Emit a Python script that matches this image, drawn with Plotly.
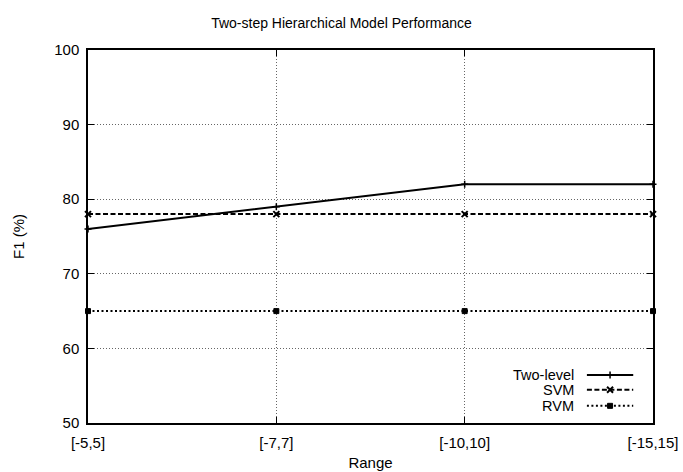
import plotly.graph_objects as go

# F1 score by feature range for each model
ranges = ["[-5,5]", "[-7,7]", "[-10,10]", "[-15,15]"]
two_level = [76, 79, 82, 82]
svm = [78, 78, 78, 78]
rvm = [65, 65, 65, 65]
y_ticks = [50, 60, 70, 80, 90, 100]

x_pos = list(range(len(ranges)))
FONT = "Liberation Sans, Arial, sans-serif"

series = [
    ("Two-level", two_level, "solid", "cross-thin", 5, 2.0, 1.5),
    ("SVM", svm, "5px,2.5px", "x-thin", 6, 2.0, 2.0),
    ("RVM", rvm, "2px,2.5px", "square", 5, 2.0, 1.0),
]

fig = go.Figure()
for name, vals, dash, sym, msize, lw, mlw in series:
    fig.add_trace(go.Scatter(
        x=x_pos, y=vals, name=name, mode="lines+markers",
        line=dict(color="black", width=lw, dash=dash),
        marker=dict(symbol=sym, size=msize, color="black",
                    line=dict(color="black", width=mlw)),
        cliponaxis=False, showlegend=False,
    ))

# key in the lower right: label on the left, sample line on the right
key_y = [0.129, 0.089, 0.046]
for (name, vals, dash, sym, msize, lw, mlw), ky in zip(series, key_y):
    fig.add_trace(go.Scatter(
        x=[0.883, 0.924, 0.965], y=[ky] * 3, mode="lines",
        line=dict(color="black", width=lw, dash=dash),
        xaxis="x2", yaxis="y2", showlegend=False, hoverinfo="skip",
        cliponaxis=False,
    ))
    fig.add_trace(go.Scatter(
        x=[0.924], y=[ky], mode="markers",
        marker=dict(symbol=sym, size=msize, color="black",
                    line=dict(color="black", width=mlw)),
        xaxis="x2", yaxis="y2", showlegend=False, hoverinfo="skip",
        cliponaxis=False,
    ))
    fig.add_annotation(
        x=0.864, y=ky, xref="paper", yref="paper", text=name,
        showarrow=False, xanchor="right", yanchor="middle",
        font=dict(family=FONT, size=14.5, color="black"),
    )

fig.update_layout(
    width=683, height=472,
    margin=dict(l=88, r=30, t=50, b=49),
    paper_bgcolor="white", plot_bgcolor="white",
    font=dict(family=FONT, size=15, color="black"),
    title=dict(text="Two-step Hierarchical Model Performance",
               x=0.5, xanchor="center", y=1 - 23 / 472, yanchor="middle",
               font=dict(family=FONT, size=14, color="black")),
    xaxis=dict(
        range=[0, 3], tickmode="array", tickvals=x_pos, ticktext=ranges,
        showgrid=True, gridcolor="#666", griddash="1px,2px", gridwidth=1,
        showline=True, linecolor="black", linewidth=1.5, mirror="ticks",
        ticks="inside", ticklen=6, tickcolor="black",
        ticklabelstandoff=5, automargin=False,
        zeroline=False, title=dict(text="Range", standoff=8,
                                   font=dict(family=FONT, size=15)),
        tickfont=dict(family=FONT, size=15),
    ),
    yaxis=dict(
        range=[50, 100], tickmode="array", tickvals=y_ticks,
        showgrid=True, gridcolor="#666", griddash="1px,2px", gridwidth=1,
        showline=True, linecolor="black", linewidth=1.5, mirror="ticks",
        ticks="inside", ticklen=6, tickcolor="black",
        ticklabelstandoff=4, automargin=False,
        zeroline=False, title=dict(text="F1 (%)", standoff=26,
                                   font=dict(family=FONT, size=15)),
        tickfont=dict(family=FONT, size=15),
    ),
    xaxis2=dict(overlaying="x", range=[0, 1], visible=False,
                fixedrange=True, anchor="y2"),
    yaxis2=dict(overlaying="y", range=[0, 1], visible=False,
                fixedrange=True, anchor="x2"),
)

fig.write_html("out.html")
